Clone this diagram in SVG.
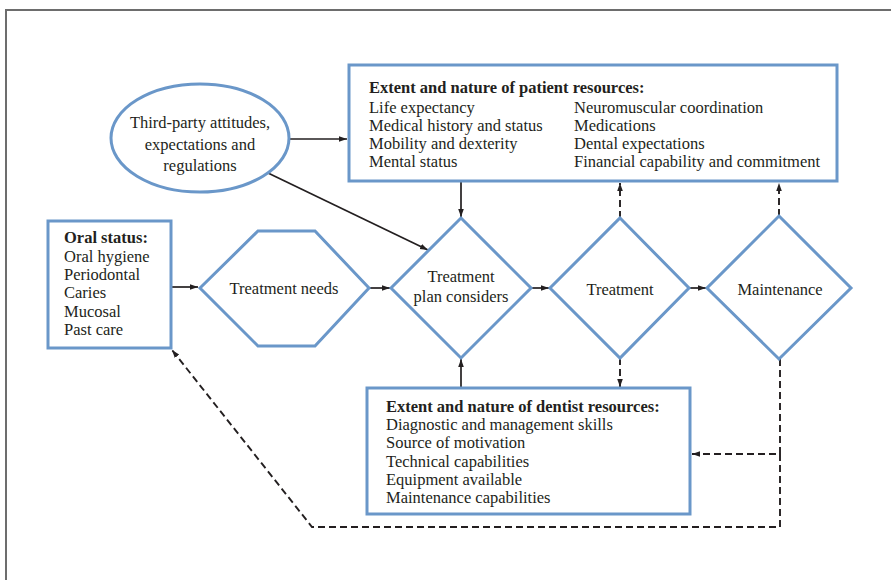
<svg xmlns="http://www.w3.org/2000/svg" width="891" height="580" viewBox="0 0 891 580">
<defs>
<style>
.n{fill:#fff;stroke:#6a97c9;stroke-width:3}
.t{font-family:"Liberation Serif","Times New Roman",serif;font-size:16.5px;fill:#231f20}
.b{font-weight:bold}
.c{text-anchor:middle}
.l{fill:none;stroke:#231f20;stroke-width:1.7}
.d{stroke-dasharray:7 4;stroke-width:1.9}
</style>
<marker id="a" viewBox="0 0 10 10" refX="10" refY="5" markerWidth="8" markerHeight="8" markerUnits="userSpaceOnUse" orient="auto">
<path d="M0,1.5 L10,5 L0,8.5 Z" fill="#231f20"/>
</marker>
</defs>
<rect width="891" height="580" fill="#fff"/>
<path d="M6,580 V10 H891" fill="none" stroke="#6d6d6d" stroke-width="2"/>

<g id="connectors">
<line class="l" x1="290" y1="139" x2="347" y2="139" marker-end="url(#a)"/>
<line class="l" x1="268" y1="173" x2="428" y2="250" marker-end="url(#a)"/>
<line class="l" x1="461" y1="181" x2="461" y2="217" marker-end="url(#a)"/>
<line class="l" x1="461" y1="388" x2="461" y2="359" marker-end="url(#a)"/>
<line class="l" x1="171" y1="287" x2="198" y2="287" marker-end="url(#a)"/>
<line class="l" x1="369" y1="288" x2="390" y2="288" marker-end="url(#a)"/>
<line class="l" x1="531" y1="288" x2="549" y2="288" marker-end="url(#a)"/>
<line class="l" x1="689" y1="288" x2="706" y2="288" marker-end="url(#a)"/>
<line class="l d" x1="620" y1="218" x2="620" y2="183" marker-end="url(#a)"/>
<line class="l d" x1="779" y1="216" x2="779" y2="183" marker-end="url(#a)"/>
<line class="l d" x1="620" y1="358" x2="620" y2="387" marker-end="url(#a)"/>
<polyline class="l d" points="780,359 780,454 692,454" marker-end="url(#a)"/>
<polyline class="l d" points="780,454 780,527 312,527 172,350" marker-end="url(#a)"/>
</g>

<g id="third-party">
<ellipse class="n" cx="200" cy="138" rx="89" ry="54"/>
<text class="t c" x="200" y="128">Third-party attitudes,</text>
<text class="t c" x="200" y="150">expectations and</text>
<text class="t c" x="200" y="171">regulations</text>
</g>

<g id="patient-resources">
<rect class="n" x="349" y="65" width="488" height="116"/>
<text class="t b" x="369" y="93">Extent and nature of patient resources:</text>
<text class="t" x="369" y="113">Life expectancy</text>
<text class="t" x="369" y="131">Medical history and status</text>
<text class="t" x="369" y="149">Mobility and dexterity</text>
<text class="t" x="369" y="167">Mental status</text>
<text class="t" x="574" y="113">Neuromuscular coordination</text>
<text class="t" x="574" y="131">Medications</text>
<text class="t" x="574" y="149">Dental expectations</text>
<text class="t" x="574" y="167">Financial capability and commitment</text>
</g>

<g id="oral-status">
<rect class="n" x="48" y="221" width="123" height="127"/>
<text class="t b" x="64" y="243">Oral status:</text>
<text class="t" x="64" y="262">Oral hygiene</text>
<text class="t" x="64" y="280">Periodontal</text>
<text class="t" x="64" y="298">Caries</text>
<text class="t" x="64" y="317">Mucosal</text>
<text class="t" x="64" y="335">Past care</text>
</g>

<g id="treatment-needs">
<polygon class="n" points="200,288 258,231 315,231 369,288 315,346 258,346"/>
<text class="t c" x="284" y="294">Treatment needs</text>
</g>

<g id="treatment-plan">
<polygon class="n" points="461,218 531,288 461,358 391,288"/>
<text class="t c" x="461" y="282">Treatment</text>
<text class="t c" x="461" y="302">plan considers</text>
</g>

<g id="treatment">
<polygon class="n" points="620,218 689,288 620,358 550,288"/>
<text class="t c" x="620" y="295">Treatment</text>
</g>

<g id="maintenance">
<polygon class="n" points="779,216 851,288 779,359 707,288"/>
<text class="t c" x="780" y="295">Maintenance</text>
</g>

<g id="dentist-resources">
<rect class="n" x="367" y="388" width="323" height="126"/>
<text class="t b" x="386" y="412">Extent and nature of dentist resources:</text>
<text class="t" x="386" y="430">Diagnostic and management skills</text>
<text class="t" x="386" y="448">Source of motivation</text>
<text class="t" x="386" y="467">Technical capabilities</text>
<text class="t" x="386" y="485">Equipment available</text>
<text class="t" x="386" y="503">Maintenance capabilities</text>
</g>
</svg>
